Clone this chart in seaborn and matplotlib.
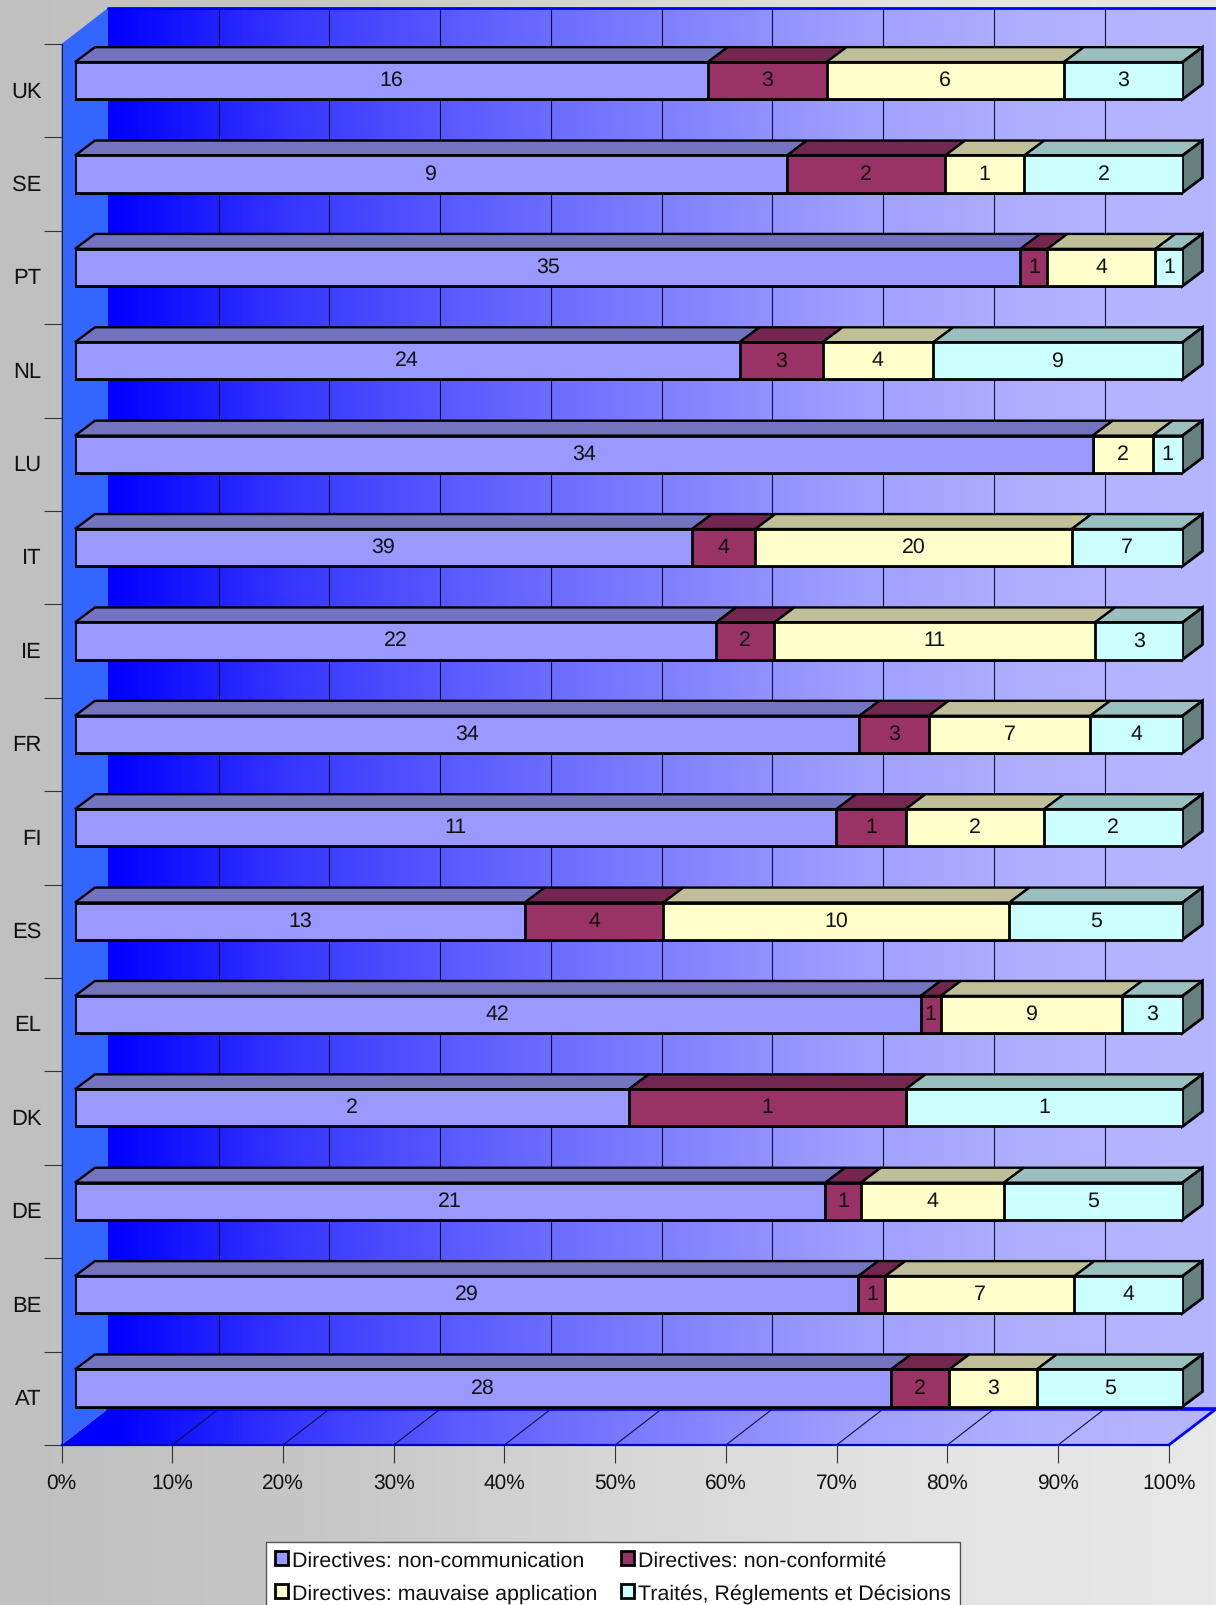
import numpy as np
import pandas as pd
import seaborn as sns
import matplotlib.pyplot as plt
from matplotlib.patches import Patch, Polygon

countries = ['UK', 'SE', 'PT', 'NL', 'LU', 'IT', 'IE', 'FR', 'FI', 'ES', 'EL', 'DK', 'DE', 'BE', 'AT']
non_communication = [16, 9, 35, 24, 34, 39, 22, 34, 11, 13, 42, 2, 21, 29, 28]
non_conformite = [3, 2, 1, 3, 0, 4, 2, 3, 1, 4, 1, 1, 1, 1, 2]
mauvaise_application = [6, 1, 4, 4, 2, 20, 11, 7, 2, 10, 9, 0, 4, 7, 3]
traites = [3, 2, 1, 9, 1, 7, 3, 4, 2, 5, 3, 1, 5, 4, 5]
series_names = ['Directives: non-communication', 'Directives: non-conformité',
                'Directives: mauvaise application', 'Traités, Réglements et Décisions']
front_colors = ['#9999FF', '#993366', '#FFFFCC', '#CCFFFF']
top_colors = ['#7373BF', '#732650', '#BFBF99', '#99BFBF']
side_color = '#668080'
x_ticks = [0, 10, 20, 30, 40, 50, 60, 70, 80, 90, 100]

W, H = 1216, 1606
sns.set_theme(style='ticks')
plt.rcParams['font.family'] = ['Liberation Sans', 'DejaVu Sans']
plt.rcParams['text.color'] = '#111111'
plt.rcParams['text.hinting'] = 'none'

def rect(x0, y0, x1, y1):
    # pixel box (top-left origin) to figure fractions
    return [x0 / W, 1 - y1 / H, (x1 - x0) / W, (y1 - y0) / H]

fig = plt.figure(figsize=(W / 100, H / 100), dpi=100)

# layout of the fake 3d box, in pixels
fx0, fx1, fy0, fy1 = 61.5, 1168.8, 45, 1446
bx0, bx1, by0, by1 = 108, 1216, 9, 1410
step = (fx1 - fx0) / 10

# background + walls
bg = fig.add_axes([0, 0, 1, 1])
bg.set_xlim(0, W)
bg.set_ylim(H, 0)
bg.axis('off')
bg.imshow(np.linspace(0, 1, 256).reshape(1, -1), extent=[0, W, H, 0], aspect='auto',
          cmap=sns.blend_palette(['#C0C0C0', '#C6C6C6', '#D6D6D6', '#E3E3E3', '#E8E8E8'], as_cmap=True),
          vmin=0, vmax=1)
wall_cmap = sns.blend_palette(['#0000FF', '#3737FF', '#5F5FFF', '#7F7FFF', '#9E9EFF', '#AFAFFF', '#B6B6FF'],
                              as_cmap=True)
grad = np.linspace(0, 1, 256).reshape(1, -1)
bg.imshow(grad, extent=[bx0, bx1, by1, by0], aspect='auto', cmap=wall_cmap)
floor_x = np.linspace(fx0, bx1, 256)
floor = bg.imshow(np.clip((floor_x - bx0) / (bx1 - bx0), 0, 1).reshape(1, -1), extent=[fx0, bx1, fy1, by1],
                  aspect='auto', cmap=wall_cmap)
floor_poly = Polygon([(fx0, fy1), (bx0, by1), (bx1, by1), (fx1, fy1)], transform=bg.transData,
                     fill=False, edgecolor='none')
bg.add_patch(floor_poly)
floor.set_clip_path(floor_poly)
bg.fill([fx0, bx0, bx0, fx0], [fy0, by0, by1, fy1], color='#3366FF', lw=0)
bg.set_xlim(0, W)
bg.set_ylim(H, 0)
for k in range(1, 10):
    bg.plot([bx0 + k * step] * 2, [by0, by1], color='#101030', lw=0.8)
    bg.plot([fx0 + k * step, bx0 + k * step], [fy1, by1], color='#10103A', lw=0.8)
bg.plot([bx0, bx1], [by0, by0], color='#0000FF', lw=2)
bg.plot([bx0, bx1], [by1, by1], color='#0000FF', lw=2.6)
bg.plot([fx1, bx1], [fy1, by1], color='#0000FF', lw=2)

# frame with the ticks
ax = fig.add_axes(rect(fx0, fy0, fx1, fy1))
ax.patch.set_alpha(0)
ax.set_xlim(0, 100)
ax.set_ylim(len(countries) - 0.5, -0.5)
ax.set_xticks(x_ticks)
ax.set_xticklabels([f'{v}%' for v in x_ticks], fontsize=15)
ax.set_yticks(np.arange(-0.5, len(countries)))
ax.set_yticklabels([])
ax.set_yticks(range(len(countries)), countries, minor=True, fontsize=15.8, va='center')
ax.tick_params(axis='both', which='both', labelcolor='#111111')
ax.tick_params(axis='both', which='major', length=12.7, width=0.8, color='#333333')
ax.tick_params(axis='x', pad=7.5)
ax.tick_params(axis='y', which='minor', length=0, pad=14.4)
sns.despine(ax=ax, top=True, right=True)
ax.spines['left'].set_color('#222222')
ax.spines['left'].set_linewidth(0.8)
ax.spines['bottom'].set_color('#0000C8')
ax.spines['bottom'].set_linewidth(1.6)

# bars sit in their own plane, a bit right of and above the frame
bar_ax = fig.add_axes(rect(fx0 + 13.5, fy0 - 10, fx1 + 13.7, fy1 - 10.3))
bar_ax.patch.set_alpha(0)

counts = pd.DataFrame({'a': non_communication, 'b': non_conformite,
                       'c': mauvaise_application, 'd': traites}, index=countries)
shares = counts.div(counts.sum(axis=1), axis=0) * 100
cum = shares.cumsum(axis=1)
bar_h = 0.398

# stacked by overlaying the cumulative bars, longest first
for col, color in reversed(list(zip(cum.columns, front_colors))):
    sns.barplot(x=cum[col].values, y=countries, orient='y', color=color, saturation=1,
                width=bar_h, edgecolor='black', linewidth=2, ax=bar_ax, zorder=3)

bar_ax.set_xlim(0, 100)
bar_ax.set_ylim(len(countries) - 0.5, -0.5)
bar_ax.axis('off')

depth_x, depth_y = 1.8, 0.16
for i, name in enumerate(countries):
    top = i - bar_h / 2
    bottom = i + bar_h / 2
    left = 0
    for col, tcolor in zip(cum.columns, top_colors):
        right = cum.loc[name, col]
        if counts.loc[name, col] > 0:
            bar_ax.add_patch(Polygon([(left, top), (right, top), (right + depth_x, top - depth_y),
                                      (left + depth_x, top - depth_y)], facecolor=tcolor,
                                     edgecolor='black', lw=1.7, clip_on=False, zorder=2))
            bar_ax.text((left + right) / 2, i - 0.01, str(counts.loc[name, col]), ha='center',
                        va='center', fontsize=15.4, zorder=5)
        left = right
    bar_ax.add_patch(Polygon([(100, top), (100 + depth_x, top - depth_y), (100 + depth_x, bottom - depth_y),
                              (100, bottom)], facecolor=side_color, edgecolor='black', lw=2,
                             clip_on=False, zorder=2))

# column-first filling, so the order is swapped to read row by row
order = [0, 2, 1, 3]
handles = [Patch(facecolor=front_colors[k], edgecolor='black', linewidth=2, label=series_names[k]) for k in order]
fig.legend(handles=handles, ncol=2, loc='upper left', bbox_to_anchor=(266 / W, 1 - 1543 / H),
           fontsize=15.4, frameon=True, fancybox=False, framealpha=1, facecolor='white', edgecolor='#555555',
           handlelength=0.62, handleheight=0.62, handletextpad=0.2, columnspacing=1.08, labelspacing=0.62,
           borderpad=0.4, borderaxespad=0)

fig.savefig('out.png', dpi=100)
